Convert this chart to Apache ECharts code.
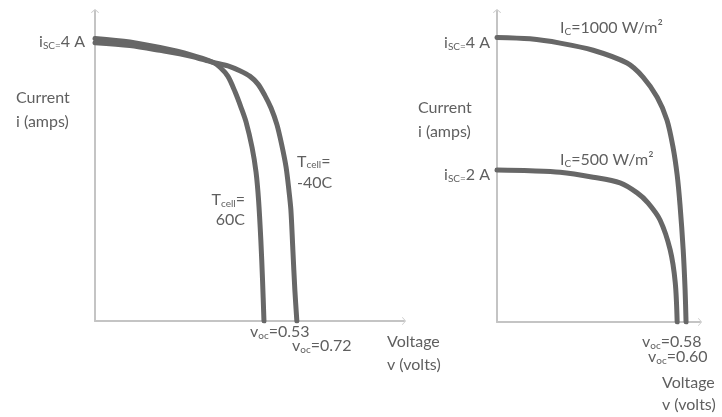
<!DOCTYPE html>
<html><head><meta charset="utf-8">
<script src="https://cdn.jsdelivr.net/npm/echarts@6/dist/echarts.min.js"></script>
<style>html,body{margin:0;padding:0;background:#fff}#c{width:722px;height:417px}</style>
</head><body><div id="c"></div>
<script>
// ---- Left panel: temperature effect (schematic units: V, A) ----
const t60V  = [0, 0.123, 0.229, 0.335, 0.416, 0.441, 0.469, 0.494, 0.515, 0.533, 0.554, 0.568, 0.577, 0.585, 0.591, 0.596];
const t60I  = [4.02, 3.97, 3.89, 3.79, 3.68, 3.61, 3.48, 3.26, 3.04, 2.83, 2.47, 2.12, 1.72, 1.15, 0.58, 0];
const tm40V = [0, 0.123, 0.229, 0.335, 0.416, 0.469, 0.511, 0.547, 0.575, 0.599, 0.621, 0.642, 0.659, 0.674, 0.684, 0.691, 0.698, 0.705, 0.712];
const tm40I = [3.96, 3.92, 3.85, 3.77, 3.68, 3.63, 3.56, 3.48, 3.37, 3.21, 3.03, 2.79, 2.50, 2.19, 1.86, 1.58, 1.01, 0.44, 0];
// ---- Right panel: insolation effect ----
const s1000V = [0, 0.104, 0.199, 0.303, 0.410, 0.461, 0.505, 0.536, 0.555, 0.568, 0.577, 0.587, 0.593, 0.596];
const s1000I = [3.99, 3.97, 3.91, 3.81, 3.63, 3.43, 3.15, 2.83, 2.45, 2.06, 1.64, 1.01, 0.45, 0];
const s500V  = [0, 0.104, 0.199, 0.303, 0.388, 0.442, 0.476, 0.514, 0.546, 0.562, 0.568];
const s500I  = [2.13, 2.12, 2.10, 2.03, 1.95, 1.81, 1.67, 1.43, 1.01, 0.55, 0];
// ---- Text labels ----
const iscLeft = '4 A';
const iscRight = ['4 A', '2 A'];
const vocLeft = ['0.53', '0.72'];
const vocRight = ['0.58', '0.60'];
const tempLabels = ['60C', '-40C'];
const irrLabels = ['1000 W/m²', '500 W/m²'];
const yTitle = ['Current', 'i (amps)'];
const xTitle = ['Voltage', 'v (volts)'];

const zip = (a, b) => a.map((v, i) => [v, b[i]]);
const CURVE = '#676767', AXIS = '#c4c4c4', TXT = '#5f5f5f', FONT = 'Lato';
const chev = 'path://M0,0 L10,9 L8.6,10 L0,2.2 L-8.6,10 L-10,9 Z';
const axisLine = {show: true, symbol: ['none', chev], symbolSize: [8, 7], lineStyle: {color: AXIS, width: 2}};
function xA(idx, max) {
  return {gridIndex: idx, type: 'value', min: 0, max: max, axisLine: axisLine, axisTick: {show: false}, axisLabel: {show: false}, splitLine: {show: false}};
}
function yA(idx, max) {
  return {gridIndex: idx, type: 'value', min: 0, max: max, axisLine: axisLine, axisTick: {show: false}, axisLabel: {show: false}, splitLine: {show: false}};
}
function curve(idx, v, i) {
  return {type: 'line', xAxisIndex: idx, yAxisIndex: idx, data: zip(v, i), smooth: 0.3, showSymbol: false,
    lineStyle: {color: CURVE, width: 5, cap: 'round'}, silent: true, animation: false};
}
const RICH = {
  s: {fontSize: 10, fontFamily: FONT, fill: TXT, lineHeight: 12, padding: [7, 0, 0, 0]}
};
function T(text, x, y, align, lh) {
  return {type: 'text', x: x, y: y, silent: true, style: {text: text, fill: TXT, fontSize: 16, fontFamily: FONT,
    textAlign: align, textVerticalAlign: 'middle', lineHeight: lh || 20, rich: RICH}};
}
const chart = echarts.init(document.getElementById('c'), null, {renderer: 'canvas'});
chart.setOption({
  animation: false,
  backgroundColor: '#fff',
  grid: [
    {left: 95, top: 11, width: 309, height: 310},
    {left: 497, top: 11, width: 203, height: 311}
  ],
  xAxis: [xA(0, 1.09), xA(1, 0.64)],
  yAxis: [yA(0, 4.41), yA(1, 4.36)],
  series: [
    curve(0, t60V, t60I),
    curve(0, tm40V, tm40I),
    curve(1, s1000V, s1000I),
    curve(1, s500V, s500I)
  ],
  graphic: [
    T(yTitle.join('\n'), 16, 110, 'left', 24),
    T('i{s|SC=}' + iscLeft, 85, 42, 'right'),
    T('T{s|cell}=\n' + tempLabels[1], 297, 172, 'left', 21),
    T('T{s|cell}=\n' + tempLabels[0], 245, 210, 'right', 20),
    T('v{s|oc}=' + vocLeft[0], 250, 332, 'left'),
    T('v{s|oc}=' + vocLeft[1], 292, 346, 'left'),
    T(xTitle.join('\n'), 387, 353, 'left', 23),
    T(yTitle.join('\n'), 418, 120, 'left', 24),
    T('i{s|SC=}' + iscRight[0], 490, 43, 'right'),
    T('i{s|SC=}' + iscRight[1], 490, 175, 'right'),
    T('I{s|C}=' + irrLabels[0], 560, 28, 'left'),
    T('I{s|C}=' + irrLabels[1], 560, 160, 'left'),
    T('v{s|oc}=' + vocRight[0], 642, 342, 'left'),
    T('v{s|oc}=' + vocRight[1], 648, 357, 'left'),
    T(xTitle.join('\n'), 662, 394, 'left', 22)
  ]
});
</script>
</body></html>
